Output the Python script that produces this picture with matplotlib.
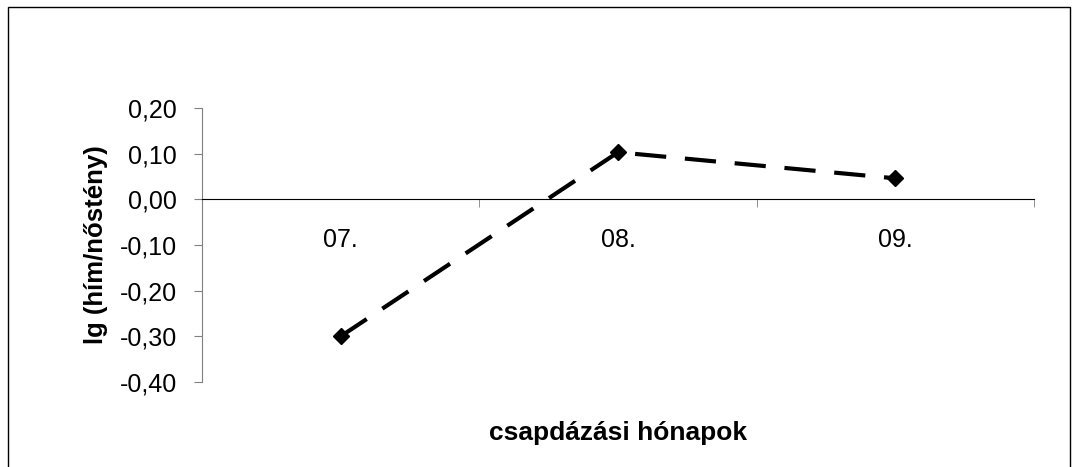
import matplotlib
matplotlib.use("Agg")
import matplotlib.pyplot as plt
from matplotlib.patches import Rectangle
import numpy as np

# data
months = ["07.", "08.", "09."]
lg_ratio = [-0.30, 0.103, 0.046]
y_ticks = [-0.40, -0.30, -0.20, -0.10, 0.00, 0.10, 0.20]

plt.rcParams['font.family'] = ['Liberation Sans', 'DejaVu Sans']

fig = plt.figure(figsize=(10.72, 4.67), dpi=100)
ax = fig.add_axes([202 / 1072, 1 - 382 / 467, (1034 - 202) / 1072, (382 - 108) / 467])

# outer chart border (bottom edge falls outside the picture)
fig.patches.append(Rectangle((8 / 1072, -0.05), (1070 - 8) / 1072, 1.05 - 7 / 467,
                             transform=fig.transFigure, fill=False,
                             edgecolor='black', linewidth=1.0))

x = np.arange(len(months)) + 0.5
ax.plot(x, lg_ratio, color='black', linewidth=3.0, linestyle=(0, (7.5, 4.5)),
        marker='D', markersize=8.5, markerfacecolor='black', markeredgecolor='black')

ax.set_xlim(0, len(months))
ax.set_ylim(-0.40, 0.20)

ax.spines['top'].set_visible(False)
ax.spines['right'].set_visible(False)
ax.spines['left'].set_color('#808080')
ax.spines['bottom'].set_position(('data', 0))
ax.spines['bottom'].set_color('black')

ax.set_yticks(y_ticks)
ax.set_yticklabels([f"{v:.2f}".replace('.', ',') for v in y_ticks], fontsize=18)
ax.tick_params(axis='y', direction='out', length=6, color='#808080', pad=12)

# category labels centred between boundary ticks
ax.set_xticks(x)
ax.set_xticklabels(months, fontsize=18)
ax.tick_params(axis='x', which='major', length=0, pad=21)
ax.set_xticks(np.arange(len(months) + 1), minor=True)
ax.tick_params(axis='x', which='minor', direction='out', length=6, color='#808080')

fig.text(96 / 1072, 1 - 245 / 467, "lg (hím/nőstény)", rotation=90, fontsize=18.5,
         fontweight='bold', ha='center', va='center')
fig.text(618 / 1072, 1 - 433 / 467, "csapdázási hónapok", fontsize=19,
         fontweight='bold', ha='center', va='center')

plt.savefig("out.png", dpi=100)
